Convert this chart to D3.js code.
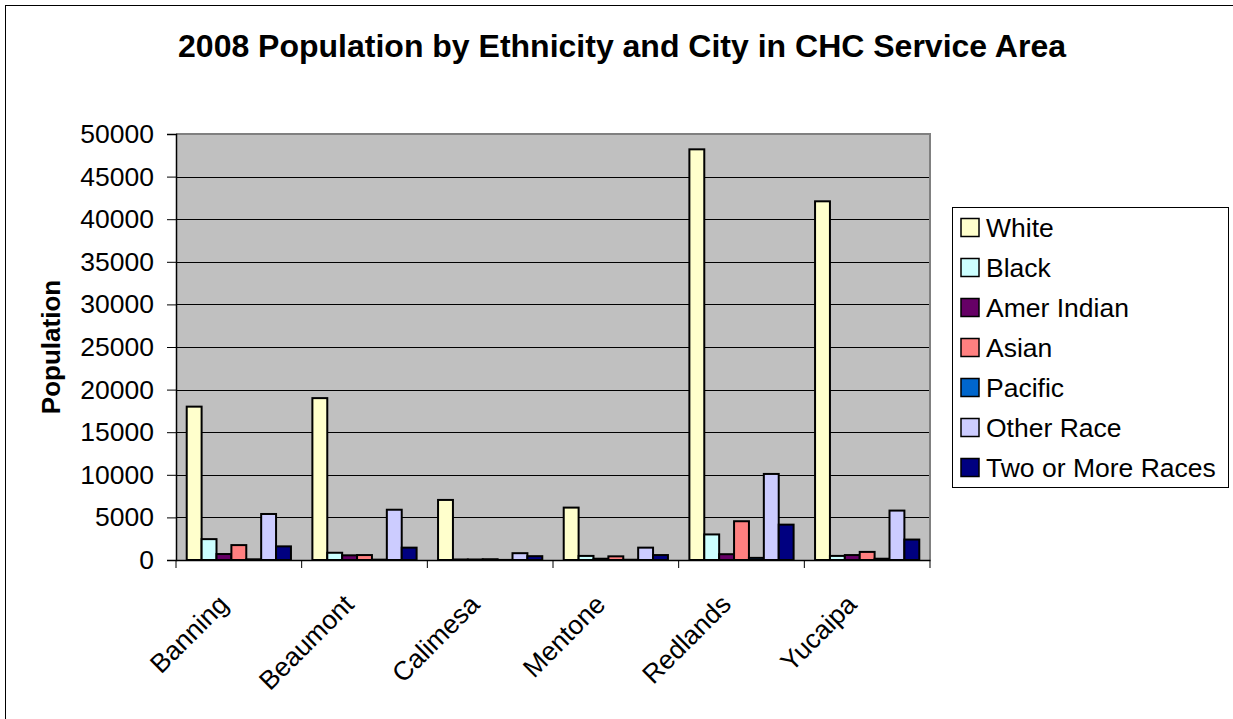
<!DOCTYPE html>
<html>
<head>
<meta charset="utf-8">
<script src="https://cdn.jsdelivr.net/npm/d3@7"></script>
<style>
  html, body { margin: 0; padding: 0; background: #fff; }
  svg { display: block; font-family: "Liberation Sans", Arial, sans-serif; }
</style>
</head>
<body>
<svg id="chart" width="1233" height="719"></svg>
<script>
// ---- data ----
const cities = ["Banning", "Beaumont", "Calimesa", "Mentone", "Redlands", "Yucaipa"];
const seriesNames = ["White", "Black", "Amer Indian", "Asian", "Pacific", "Other Race", "Two or More Races"];
const seriesColors = ["#FFFFCC", "#CCFFFF", "#660066", "#FF8080", "#0066CC", "#CCCCFF", "#000080"];
const white      = [18000, 19000, 7050, 6150, 48200, 42100];
const black      = [2450, 850, 60, 480, 3000, 480];
const amerIndian = [700, 550, 60, 150, 680, 580];
const asian      = [1750, 580, 90, 430, 4550, 950];
const pacific    = [80, 40, 10, 30, 250, 150];
const otherRace  = [5400, 5900, 800, 1450, 10100, 5800];
const twoOrMore  = [1600, 1450, 450, 580, 4150, 2400];
const yTicks = [0, 5000, 10000, 15000, 20000, 25000, 30000, 35000, 40000, 45000, 50000];
const title = "2008 Population by Ethnicity and City in CHC Service Area";
const yTitle = "Population";

const seriesValues = [white, black, amerIndian, asian, pacific, otherRace, twoOrMore];

const svg = d3.select("#chart");
const FS = 26.5;

// outer chart border (right/bottom fall outside the picture)
svg.append("rect").attr("x", 5.5).attr("y", 5.5).attr("width", 1240).attr("height", 730)
  .attr("fill", "#fff").attr("stroke", "#000").attr("stroke-width", 1);

const plot = { left: 176, right: 930, top: 134, bottom: 560 };

const x0 = d3.scaleBand().domain(cities).range([plot.left, plot.right]).padding(0);
const x1 = d3.scaleBand().domain(seriesNames).range([0, x0.bandwidth()]).paddingInner(0).paddingOuter(0.72);
const y = d3.scaleLinear().domain([0, 50000]).range([plot.bottom, plot.top]);

// plot background
svg.append("rect").attr("x", plot.left).attr("y", plot.top)
  .attr("width", plot.right - plot.left).attr("height", plot.bottom - plot.top)
  .attr("fill", "#C0C0C0");

// gridlines
svg.append("g").selectAll("line").data(yTicks.filter(t => t > 0 && t < 50000)).join("line")
  .attr("x1", plot.left).attr("x2", plot.right)
  .attr("y1", d => Math.round(y(d)) + 0.5).attr("y2", d => Math.round(y(d)) + 0.5)
  .attr("stroke", "#000").attr("stroke-width", 1);

// plot border top/right (gray)
svg.append("path")
  .attr("d", `M${plot.left},${plot.top} H${plot.right} V${plot.bottom}`)
  .attr("fill", "none").attr("stroke", "#808080").attr("stroke-width", 2);

// bars
const groups = svg.append("g").selectAll("g").data(cities).join("g")
  .attr("transform", d => `translate(${x0(d)},0)`);
groups.selectAll("rect")
  .data((c, ci) => seriesNames.map((s, si) => ({ s, si, v: seriesValues[si][ci] })))
  .join("rect")
  .attr("x", d => x1(d.s))
  .attr("width", x1.bandwidth())
  .attr("y", d => y(d.v))
  .attr("height", d => y(0) - y(d.v))
  .attr("fill", d => seriesColors[d.si])
  .attr("stroke", "#000").attr("stroke-width", 2);

// y axis
const yAxis = d3.axisLeft(y).tickValues(yTicks).tickSize(9).tickPadding(13).tickFormat(d3.format("d"));
const yg = svg.append("g").attr("transform", `translate(${plot.left},0)`).call(yAxis);
yg.select(".domain").attr("stroke", "#000").attr("stroke-width", 1.5);
yg.selectAll(".tick line").attr("stroke", "#000");
yg.selectAll(".tick text").attr("font-size", FS).attr("fill", "#000")
  .attr("font-family", "'Liberation Sans', Arial, sans-serif");

// x axis
const xAxis = d3.axisBottom(x0).tickSize(0).tickFormat("");
const xg = svg.append("g").attr("transform", `translate(0,${plot.bottom})`).call(xAxis);
xg.select(".domain").attr("stroke", "#000").attr("stroke-width", 1.5);
// category separator ticks
svg.append("g").selectAll("line").data(d3.range(cities.length + 1)).join("line")
  .attr("x1", i => plot.left + i * x0.step()).attr("x2", i => plot.left + i * x0.step())
  .attr("y1", plot.bottom).attr("y2", plot.bottom + 8)
  .attr("stroke", "#000");

// category labels rotated
svg.append("g").selectAll("text").data(cities).join("text")
  .attr("transform", d => `translate(${x0(d) + x0.bandwidth() / 2 - 9},${plot.bottom + 46}) rotate(-45)`)
  .attr("text-anchor", "end")
  .attr("font-size", FS).attr("fill", "#000")
  .text(d => d);

// title
svg.append("text").attr("x", 622).attr("y", 57).attr("text-anchor", "middle")
  .attr("font-size", 32).attr("font-weight", "bold").text(title);

// y title
svg.append("text").attr("transform", `translate(60,347) rotate(-90)`)
  .attr("text-anchor", "middle").attr("font-size", 26).attr("font-weight", "bold").text(yTitle);

// legend
const lg = svg.append("g");
lg.append("rect").attr("x", 952.5).attr("y", 207.5).attr("width", 276).attr("height", 280)
  .attr("fill", "#fff").attr("stroke", "#000").attr("stroke-width", 1);
const items = lg.selectAll("g.item").data(seriesNames).join("g").attr("class", "item")
  .attr("transform", (d, i) => `translate(0,${227.5 + i * 40})`);
items.append("rect").attr("x", 961).attr("y", -9).attr("width", 18).attr("height", 18)
  .attr("fill", (d, i) => seriesColors[i]).attr("stroke", "#000").attr("stroke-width", 1.5);
items.append("text").attr("x", 986).attr("y", 9.5).attr("font-size", FS).attr("fill", "#000").text(d => d);
</script>
</body>
</html>
